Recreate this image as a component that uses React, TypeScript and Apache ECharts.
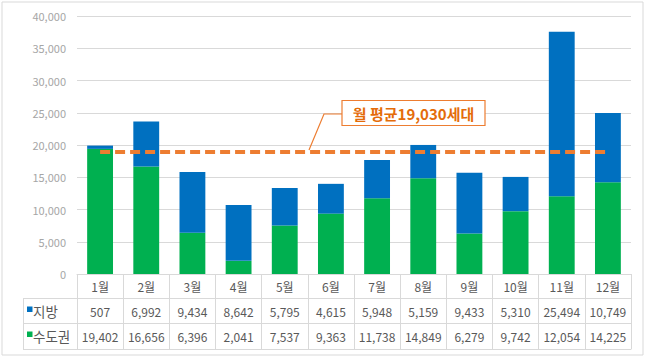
import React, { useEffect, useRef } from "react";
import * as echarts from "echarts";

const months = ["1월", "2월", "3월", "4월", "5월", "6월", "7월", "8월", "9월", "10월", "11월", "12월"];
const jibang = [507, 6992, 9434, 8642, 5795, 4615, 5948, 5159, 9433, 5310, 25494, 10749];
const sudogwon = [19402, 16656, 6396, 2041, 7537, 9363, 11738, 14849, 6279, 9742, 12054, 14225];
const average = 19030;
const yTicks = { min: 0, max: 40000, interval: 5000 };

const BLUE = "#0070C0";
const GREEN = "#00B050";
const ORANGE = "#ED7D31";
const TXT = "#595959";
const LINE = "#D9D9D9";
const FONT = "'Noto Sans CJK KR', 'Noto Sans', sans-serif";

const fmt = (v: number) => v.toLocaleString("en-US");

export default function App() {
  const ref = useRef<HTMLDivElement>(null);
  useEffect(() => {
    if (!ref.current) return;
    const chart = echarts.init(ref.current, null, { renderer: "svg" });
    const tableAxis = (data: string[], offset: number, showLabel: boolean) => ({
      type: "category",
      data,
      position: "bottom",
      offset,
      gridIndex: 0,
      axisLine: { show: true, lineStyle: { color: LINE, width: 1 } },
      axisTick: { show: false },
      axisLabel: {
        show: showLabel,
        color: TXT,
        fontSize: 12,
        fontFamily: FONT,
        verticalAlign: "middle",
        margin: 13,
        interval: 0,
      },
      splitLine: { show: false },
    });
    chart.setOption({
      animation: false,
      backgroundColor: "#fff",
      textStyle: { fontFamily: FONT },
      grid: { left: 77, right: 15, top: 16, bottom: 84 },
      xAxis: [
        {
          type: "category",
          data: months,
          position: "bottom",
          axisLine: { show: true, lineStyle: { color: LINE } },
          axisTick: { show: true, length: 75, lineStyle: { color: LINE } },
          axisLabel: {
            color: TXT,
            fontSize: 12,
            fontFamily: FONT,
            verticalAlign: "middle",
            margin: 12,
            interval: 0,
          },
        },
        tableAxis(jibang.map(fmt), 24, true),
        tableAxis(sudogwon.map(fmt), 49, true),
        tableAxis(months, 75, false),
      ],
      yAxis: {
        type: "value",
        min: yTicks.min,
        max: yTicks.max,
        interval: yTicks.interval,
        axisLine: { show: false },
        axisTick: { show: false },
        axisLabel: {
          color: "#A6A6A6",
          fontSize: 11,
          fontFamily: FONT,
          margin: 11,
          formatter: (v: number) => fmt(v),
        },
        splitLine: { lineStyle: { color: LINE } },
      },
      series: [
        {
          name: "수도권",
          type: "bar",
          stack: "total",
          data: sudogwon,
          barWidth: "56%",
          itemStyle: { color: GREEN },
        },
        {
          name: "지방",
          type: "bar",
          stack: "total",
          data: jibang,
          barWidth: "56%",
          itemStyle: { color: BLUE },
          markLine: {
            silent: true,
            symbol: "none",
            label: { show: false },
            lineStyle: { color: ORANGE, width: 4, type: [10, 5] },
            data: [[{ coord: [months[0], average] }, { coord: [months[months.length - 1], average] }]],
          },
        },
      ],
      graphic: [
        {
          type: "rect",
          shape: { x: 2, y: 2, width: 641, height: 353 },
          style: { fill: "none", stroke: LINE, lineWidth: 1 },
          silent: true,
          z: -1,
        },
        { type: "line", shape: { x1: 23, y1: 298.5, x2: 77, y2: 298.5 }, style: { stroke: LINE, lineWidth: 1 } },
        { type: "line", shape: { x1: 23, y1: 323.5, x2: 77, y2: 323.5 }, style: { stroke: LINE, lineWidth: 1 } },
        { type: "line", shape: { x1: 23, y1: 349.5, x2: 77, y2: 349.5 }, style: { stroke: LINE, lineWidth: 1 } },
        { type: "line", shape: { x1: 23.5, y1: 298, x2: 23.5, y2: 349.5 }, style: { stroke: LINE, lineWidth: 1 } },
        { type: "rect", shape: { x: 27, y: 306.5, width: 5.5, height: 5.5 }, style: { fill: BLUE } },
        {
          type: "text",
          x: 33,
          y: 311,
          style: { text: "지방", fill: TXT, fontSize: 13.5, fontFamily: FONT, verticalAlign: "middle" },
        },
        { type: "rect", shape: { x: 27, y: 331.5, width: 5.5, height: 5.5 }, style: { fill: GREEN } },
        {
          type: "text",
          x: 33,
          y: 336,
          style: { text: "수도권", fill: TXT, fontSize: 13.5, fontFamily: FONT, verticalAlign: "middle" },
        },
        {
          type: "polyline",
          shape: { points: [[342, 114], [324, 114], [309, 150]] },
          style: { stroke: ORANGE, lineWidth: 1.2, fill: "none" },
          z: 10,
        },
        {
          type: "rect",
          shape: { x: 342, y: 100.5, width: 143, height: 25 },
          style: { fill: "#fff", stroke: ORANGE, lineWidth: 1.2 },
          z: 10,
        },
        {
          type: "text",
          x: 413.5,
          y: 113,
          style: {
            text: `월 평균${fmt(average)}세대`,
            fill: "#E46C0A",
            fontSize: 15,
            fontWeight: "bold",
            fontFamily: FONT,
            align: "center",
            verticalAlign: "middle",
          },
          z: 11,
        },
      ],
    });
    return () => chart.dispose();
  }, []);
  return <div ref={ref} style={{ width: 646, height: 358, position: "absolute", left: 0, top: 0 }} />;
}
